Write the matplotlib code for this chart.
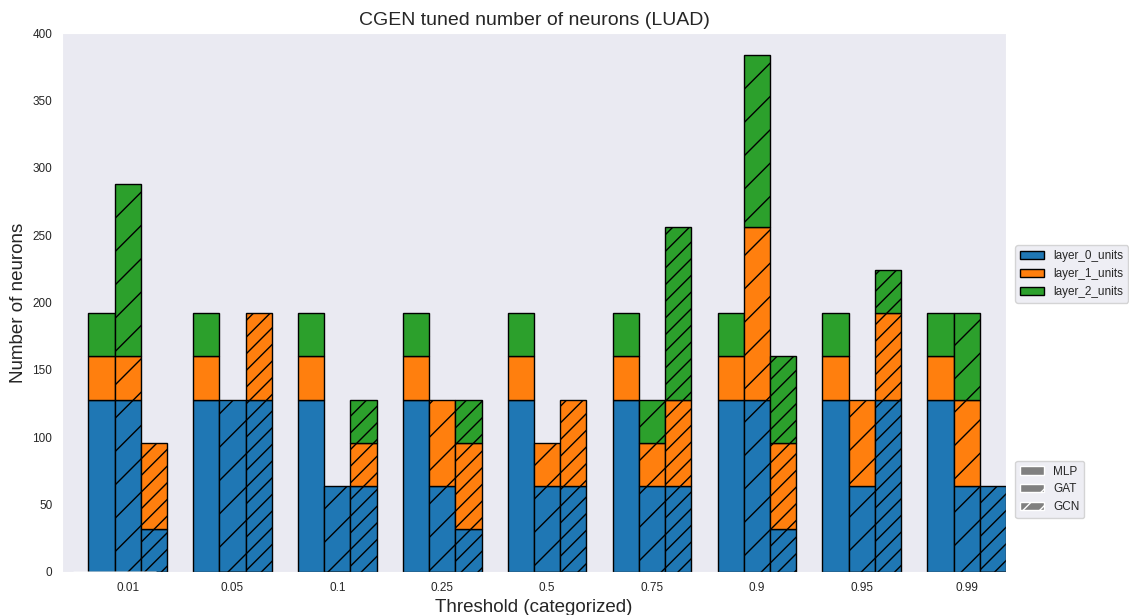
import matplotlib
matplotlib.use("Agg")
import matplotlib.pyplot as plt
import seaborn as sns
import numpy as np
import pandas as pd

# umbrales (eje x)
thresholds = ["0.01", "0.05", "0.1", "0.25", "0.5", "0.75", "0.9", "0.95", "0.99"]
layers = ["layer_0_units", "layer_1_units", "layer_2_units"]
models = ["MLP", "GAT", "GCN"]

# neuronas por capa, por modelo
mlp_l0 = [128, 128, 128, 128, 128, 128, 128, 128, 128]
mlp_l1 = [32, 32, 32, 32, 32, 32, 32, 32, 32]
mlp_l2 = [32, 32, 32, 32, 32, 32, 32, 32, 32]

gat_l0 = [128, 128, 64, 64, 64, 64, 128, 64, 64]
gat_l1 = [32, 0, 0, 64, 32, 32, 128, 64, 64]
gat_l2 = [128, 0, 0, 0, 0, 32, 128, 0, 64]

gcn_l0 = [32, 128, 64, 32, 64, 64, 32, 128, 64]
gcn_l1 = [64, 64, 32, 64, 64, 64, 64, 64, 0]
gcn_l2 = [0, 0, 32, 32, 0, 128, 64, 32, 0]

df_mlp = pd.DataFrame({layers[0]: mlp_l0, layers[1]: mlp_l1, layers[2]: mlp_l2}, index=thresholds)
df_gat = pd.DataFrame({layers[0]: gat_l0, layers[1]: gat_l1, layers[2]: gat_l2}, index=thresholds)
df_gcn = pd.DataFrame({layers[0]: gcn_l0, layers[1]: gcn_l1, layers[2]: gcn_l2}, index=thresholds)


def plot_clustered_stacked(dfall, labels, title, H="/"):
    n_df = len(dfall)
    n_col = len(dfall[0].columns)
    n_ind = len(dfall[0].index)
    fig = plt.figure(figsize=(11.29, 6.15), dpi=100)
    axe = fig.add_axes([0.055, 0.07, 0.836, 0.876])
    for df in dfall:
        axe = df.plot(kind="bar", linewidth=1, edgecolor="black", stacked=True,
                      ax=axe, legend=False, grid=False)
    h, l = axe.get_legend_handles_labels()
    for i in range(0, n_df * n_col, n_col):
        for j, pa in enumerate(h[i:i + n_col]):
            for rect in pa.patches:
                rect.set_x(rect.get_x() + 1 / float(n_df + 1) * i / float(n_col))
                rect.set_hatch(H * int(i / n_col))
                rect.set_width(1 / float(n_df + 1))
    axe.set_xticks((np.arange(0, 2 * n_ind, 2) + 1 / float(n_df + 1)) / 2.)
    axe.set_xticklabels(dfall[0].index, rotation=0)
    axe.set_title(title, fontsize=14)
    axe.set_xlabel("Threshold (categorized)", fontsize=13.5)
    axe.set_ylabel("Number of neurons", fontsize=13.5)
    axe.set_ylim(0, 400)
    axe.set_xlim(-0.5, n_ind - 0.5)
    axe.tick_params(labelsize=8.5)

    n = []
    for i in range(n_df):
        n.append(axe.bar(0, 0, color="gray", hatch=H * i))
    l1 = axe.legend(h[:n_col], l[:n_col], loc=[1.01, 0.5], fontsize=8.5)
    l2 = plt.legend(n, labels, loc=[1.01, 0.1], fontsize=8.5)
    axe.add_artist(l1)
    return fig


sns.set_style("dark")
plt.rcParams["font.family"] = ["Liberation Sans", "DejaVu Sans"]
plt.rcParams["hatch.linewidth"] = 1.0

fig = plot_clustered_stacked([df_mlp, df_gat, df_gcn], models,
                             "CGEN tuned number of neurons (LUAD)")
fig.savefig("out.png", dpi=100)
